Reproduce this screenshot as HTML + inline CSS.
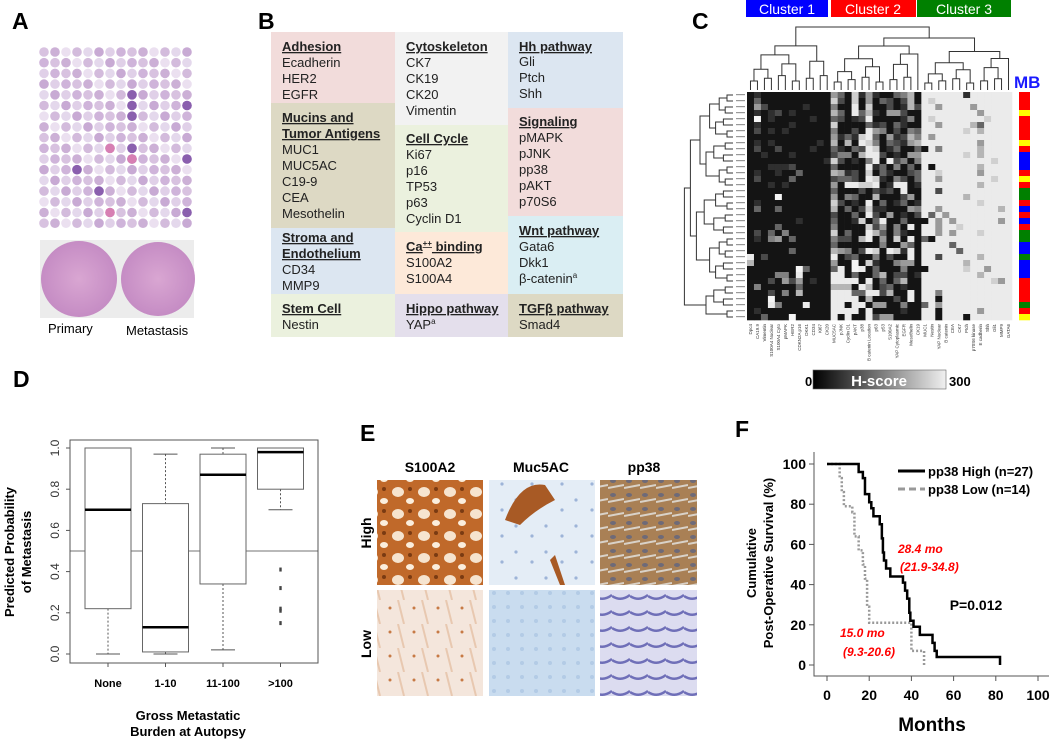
<!DOCTYPE html>
<html><head><meta charset="utf-8"><style>
body{margin:0;background:#fff;width:1050px;height:739px;overflow:hidden;font-family:"Liberation Sans",sans-serif}
svg{display:block}
</style></head><body>
<svg id="s" width="1050" height="739" viewBox="0 0 1050 739" xmlns="http://www.w3.org/2000/svg" font-family="Liberation Sans, sans-serif">
<text x="12" y="29" font-size="23" font-weight="bold">A</text>
<text x="258" y="29" font-size="23" font-weight="bold">B</text>
<text x="692" y="29" font-size="23" font-weight="bold">C</text>
<text x="13" y="387" font-size="23" font-weight="bold">D</text>
<text x="360" y="441" font-size="23" font-weight="bold">E</text>
<text x="735" y="437" font-size="23" font-weight="bold">F</text>

<g id="tma"></g>
<g>
<rect x="40" y="240" width="154" height="78" fill="#ececec"/>
<defs>
<radialGradient id="he1"><stop offset="0" stop-color="#d9a6d2"/><stop offset="1" stop-color="#c58cc4"/></radialGradient>
</defs>
<circle cx="79" cy="279" r="38" fill="url(#he1)"/>
<circle cx="158" cy="279" r="37" fill="url(#he1)"/>
</g>
<text x="48" y="333" font-size="13">Primary</text>
<text x="126" y="335" font-size="13">Metastasis</text>

<g font-size="13">
<rect x="271" y="32" width="124" height="71" fill="#f2dcdb"/>
<rect x="271" y="103" width="124" height="125" fill="#ddd9c4"/>
<rect x="271" y="228" width="124" height="66" fill="#dce6f1"/>
<rect x="271" y="294" width="124" height="43" fill="#ebf1de"/>
<rect x="395" y="32" width="113" height="93" fill="#f2f2f2"/>
<rect x="395" y="125" width="113" height="107" fill="#ebf1de"/>
<rect x="395" y="232" width="113" height="62" fill="#fde9d9"/>
<rect x="395" y="294" width="113" height="43" fill="#e4dfec"/>
<rect x="508" y="32" width="115" height="76" fill="#dce6f1"/>
<rect x="508" y="108" width="115" height="108" fill="#f2dcdb"/>
<rect x="508" y="216" width="115" height="78" fill="#daeef3"/>
<rect x="508" y="294" width="115" height="43" fill="#ddd9c4"/>
<g fill="#222">
<text x="282" y="51" font-weight="bold" text-decoration="underline">Adhesion</text>
<text x="282" y="67">Ecadherin</text><text x="282" y="83">HER2</text><text x="282" y="99">EGFR</text>
<text x="282" y="122" font-weight="bold" text-decoration="underline">Mucins and</text>
<text x="282" y="138" font-weight="bold" text-decoration="underline">Tumor Antigens</text>
<text x="282" y="154">MUC1</text><text x="282" y="170">MUC5AC</text><text x="282" y="186">C19-9</text><text x="282" y="202">CEA</text><text x="282" y="218">Mesothelin</text>
<text x="282" y="242" font-weight="bold" text-decoration="underline">Stroma and</text>
<text x="282" y="258" font-weight="bold" text-decoration="underline">Endothelium</text>
<text x="282" y="274">CD34</text><text x="282" y="290">MMP9</text>
<text x="282" y="313" font-weight="bold" text-decoration="underline">Stem Cell</text>
<text x="282" y="329">Nestin</text>
<text x="406" y="51" font-weight="bold" text-decoration="underline">Cytoskeleton</text>
<text x="406" y="67">CK7</text><text x="406" y="83">CK19</text><text x="406" y="99">CK20</text><text x="406" y="115">Vimentin</text>
<text x="406" y="143" font-weight="bold" text-decoration="underline">Cell Cycle</text>
<text x="406" y="159">Ki67</text><text x="406" y="175">p16</text><text x="406" y="191">TP53</text><text x="406" y="207">p63</text><text x="406" y="223">Cyclin D1</text>
<text x="406" y="251" font-weight="bold" text-decoration="underline">Ca<tspan font-size="8" dy="-5">++</tspan><tspan dy="5"> binding</tspan></text>
<text x="406" y="267">S100A2</text><text x="406" y="283">S100A4</text>
<text x="406" y="313" font-weight="bold" text-decoration="underline">Hippo pathway</text>
<text x="406" y="329">YAP<tspan font-size="8" dy="-5">a</tspan></text>
<text x="519" y="51" font-weight="bold" text-decoration="underline">Hh pathway</text>
<text x="519" y="66">Gli</text><text x="519" y="82">Ptch</text><text x="519" y="98">Shh</text>
<text x="519" y="126" font-weight="bold" text-decoration="underline">Signaling</text>
<text x="519" y="142">pMAPK</text><text x="519" y="158">pJNK</text><text x="519" y="174">pp38</text><text x="519" y="190">pAKT</text><text x="519" y="206">p70S6</text>
<text x="519" y="235" font-weight="bold" text-decoration="underline">Wnt pathway</text>
<text x="519" y="251">Gata6</text><text x="519" y="267">Dkk1</text><text x="519" y="283">β-catenin<tspan font-size="8" dy="-5">a</tspan></text>
<text x="519" y="313" font-weight="bold" text-decoration="underline">TGFβ pathway</text>
<text x="519" y="329">Smad4</text>
</g></g>

<g font-size="14" fill="#fff" text-anchor="middle">
<rect x="746" y="0" width="82" height="17" fill="#0000ff"/><text x="787" y="14">Cluster 1</text>
<rect x="831" y="0" width="85" height="17" fill="#ff0000"/><text x="873" y="14">Cluster 2</text>
<rect x="917" y="0" width="94" height="17" fill="#008000"/><text x="964" y="14">Cluster 3</text>
</g>
<text x="1014" y="88" font-size="17" font-weight="bold" fill="#1a1aff">MB</text>
<g id="heat"></g>
<g id="dendro" stroke="#333" stroke-width="1" fill="none"></g>
<g id="collab" font-size="4.5" fill="#333"></g>
<defs><linearGradient id="hs" x1="0" x2="1"><stop offset="0" stop-color="#000"/><stop offset="1" stop-color="#f0f0f0"/></linearGradient></defs>
<g>
<text x="805" y="386" font-size="13" font-weight="bold">0</text>
<rect x="813" y="370" width="133" height="19" fill="url(#hs)" stroke="#666" stroke-width="0.6"/>
<text x="879" y="386" font-size="15" font-weight="bold" fill="#fff" text-anchor="middle">H-score</text>
<text x="949" y="386" font-size="13" font-weight="bold">300</text>
</g>

<g id="boxplot"></g>

<g>
<defs>
<pattern id="p1" width="26" height="22" patternUnits="userSpaceOnUse"><rect width="26" height="22" fill="#c0692a"/><ellipse cx="8" cy="8" rx="6" ry="5" fill="#f6e4cf"/><ellipse cx="20" cy="17" rx="4" ry="3" fill="#fbeedd"/><circle cx="20" cy="5" r="2" fill="#7a3a12"/></pattern>
<pattern id="p2" width="30" height="26" patternUnits="userSpaceOnUse"><rect width="30" height="26" fill="#e4edf6"/><circle cx="6" cy="6" r="1.6" fill="#9db4d8"/><circle cx="22" cy="16" r="1.6" fill="#9db4d8"/></pattern>
<pattern id="p3" width="16" height="14" patternUnits="userSpaceOnUse"><rect width="16" height="14" fill="#a98055"/><ellipse cx="5" cy="5" rx="3" ry="2" fill="#6e6a78"/><path d="M0 12 L16 9" stroke="#d9d2c8" stroke-width="2"/></pattern>
<pattern id="p4" width="24" height="24" patternUnits="userSpaceOnUse"><rect width="24" height="24" fill="#f4e6dc"/><circle cx="6" cy="8" r="1.5" fill="#c77a45"/><path d="M14 0 L20 24" stroke="#e8c8b0" stroke-width="2"/></pattern>
<pattern id="p5" width="14" height="14" patternUnits="userSpaceOnUse"><rect width="14" height="14" fill="#c9dcef"/><circle cx="4" cy="5" r="2" fill="#b3cbe6"/></pattern>
<pattern id="p6" width="18" height="16" patternUnits="userSpaceOnUse"><rect width="18" height="16" fill="#dcdcf0"/><path d="M0 4 Q9 10 18 3" stroke="#6f6fb8" stroke-width="2.5" fill="none"/></pattern>
</defs>
<rect x="377" y="480" width="106" height="105" fill="url(#p1)"/>
<rect x="489" y="480" width="106" height="105" fill="url(#p2)"/>
<path d="M505 520 Q520 480 545 485 L555 500 Q535 510 520 525 Z" fill="#a85a25"/>
<path d="M555 555 L565 585 L560 585 L550 560 Z" fill="#a85a25"/>
<rect x="600" y="480" width="97" height="105" fill="url(#p3)"/>
<rect x="377" y="590" width="106" height="106" fill="url(#p4)"/>
<rect x="489" y="590" width="106" height="106" fill="url(#p5)"/>
<rect x="600" y="590" width="97" height="106" fill="url(#p6)"/>
</g>
<g font-size="14" font-weight="bold" text-anchor="middle">
<text x="430" y="472">S100A2</text>
<text x="541" y="472">Muc5AC</text>
<text x="644" y="472">pp38</text>
<text transform="translate(371,533) rotate(-90)">High</text>
<text transform="translate(371,644) rotate(-90)">Low</text>
</g>

<g id="km"></g>
</svg>
<script>
const NS='http://www.w3.org/2000/svg';
function mk(p,tag,at,txt){const e=document.createElementNS(NS,tag);for(const k in at)e.setAttribute(k,at[k]);if(txt!==undefined)e.textContent=txt;p.appendChild(e);return e;}

const tmaShades=["d8c2e0","d3bbdc","e0d0e8","ccb0d6","e4d8ec","cfb4da","ebe0f0","c8aad4"];
(function(){const g=document.getElementById('tma');
 for(let r=0;r<17;r++)for(let c=0;c<14;c++){
  const col='#'+tmaShades[(r*5+c*3)%tmaShades.length];
  mk(g,'circle',{cx:44+c*11,cy:52+r*10.7,r:4.8,fill:col});
 }
 [[8,5],[8,6],[8,9],[8,10],[8,4],[13,5],[13,10],[13,15],[3,11],[5,13]].forEach(([c,r])=>mk(g,'circle',{cx:44+c*11,cy:52+r*10.7,r:4.8,fill:'#8a5fae'}));
 [[6,9],[8,10],[6,15]].forEach(([c,r])=>mk(g,'circle',{cx:44+c*11,cy:52+r*10.7,r:4.8,fill:'#d77fb3'}));
})();

const heatCols=["Dpc4","CA19.9","Vimentin","S100A4 Nuclear","S100A4 Cyto","pMAPK","HER2","CDKN2A p16","DKK1","CD34","Ki67","CK20","MUC5AC","pJNK","Cyclin D1","pAKT","p38","B catenin Location","p63","p53","S100A2","YAP Cytoplasmic","EGFR","Mesothelin","CK19","MUC1","Nestin","YAP Nuclear","B catenin","CEA","CK7","Ptch","p70S6 kinase","E cadherin","Shh","Gli1","MMP9","GATA6"];
const heatRows=[
"010000000000|5307151003460|8888881888888",
"030000000000|7207050320260|8788888888888",
"052000001000|4008070020162|8858888588888",
"010120100000|6308361055200|8888888858888",
"090100000100|3201280000140|8788888887888",
"010000100000|7000031203100|8858888638888",
"020101000000|4002085402043|8888887868888",
"000000000000|5131783051264|8588888888888",
"010100000010|6060874032156|8888888858888",
"020020000100|3103287013003|0848888868888",
"001000100000|2440688201055|8888887868888",
"000000000001|7201048082404|8888888888788",
"000111200000|3000081304030|8088888868888",
"010010030000|6512070310023|8878888858888",
"020000300000|2332087104203|8858888888788",
"000101000000|5088778018801|8888888868888",
"000000000000|3000202120800|8828888888888",
"000090000000|5043006000250|8888886888888",
"010000000000|7201080301301|8888888878888",
"030030000000|6030271100054|8858888888868",
"000000000000|2003082050102|8385888888888",
"000000010000|3001703800300|0858588888858",
"000030000000|4000072504080|8858878888888",
"020304000000|7030086304100|8858588878888",
"010450300000|4220680507080|3088888888888",
"000000000000|3000000400530|8888388888888",
"000000300000|6540287087180|8888838888888",
"802000000000|8023004020080|8828888868888",
"600000000000|5009071004550|8888886888888",
"000000093000|3809803000400|0888887885888",
"000044080000|8803003602201|8888888868888",
"000205250100|8888080303600|8888888888758",
"040000030000|6660860230100|8888888888888",
"000204060000|8883388260080|8848888888888",
"000900000000|8888060002080|8808888888888",
"000840008000|8808805500400|3858888888888",
"010000000000|8888080000100|8808888858888",
"003000900000|8080082550000|8808880888888"].map(s=>s.replace(/\|/g,''));
const mbGroups="RRRYRRRRYRBBBRYRGGRBRBRGGBBGBBBRRRRGRY";
const mbColor={R:'#ff0000',Y:'#ffff00',B:'#0000ff',G:'#008000'};
(function(){
 const g=document.getElementById('heat');
 const x0=747,y0=92,W=265,H=228,nc=heatCols.length,nr=heatRows.length;
 const cw=W/nc,rh=H/nr;
 mk(g,'rect',{x:x0,y:y0,width:W,height:H,fill:'#ddd'});
 heatRows.forEach((row,i)=>{
  for(let j=0;j<nc;j++){
   const v=+row[j];const c=Math.min(Math.round(20+v*(215/8)),245);
   mk(g,'rect',{x:(x0+j*cw).toFixed(2),y:(y0+i*rh).toFixed(2),width:(cw+0.3).toFixed(2),height:(rh+0.3).toFixed(2),fill:`rgb(${c},${c},${c})`});
  }
  mk(g,'rect',{x:1019,y:(y0+i*rh).toFixed(2),width:11,height:(rh+0.3).toFixed(2),fill:mbColor[mbGroups[i]]});
 });
 const cl=document.getElementById('collab');
 heatCols.forEach((n,j)=>{
  mk(cl,'text',{transform:`translate(${(x0+j*cw+cw/2+1.5).toFixed(1)},324) rotate(-90)`,'text-anchor':'end'},n);
 });
 const d=document.getElementById('dendro');
 function tree(leaves,base,depthStep,axis){
  let nodes=leaves.map(p=>({p,h:0}));
  while(nodes.length>1){const nx=[];
   for(let i=0;i<nodes.length;i+=2){
    if(i+1>=nodes.length){nx.push(nodes[i]);continue;}
    const a=nodes[i],b=nodes[i+1];const h=Math.max(a.h,b.h)+depthStep*(1+((i/2)%3)*0.3);
    if(axis==='x') mk(d,'path',{d:`M${a.p} ${base-a.h} V${base-h} H${b.p} V${base-b.h}`});
    else mk(d,'path',{d:`M${base-a.h} ${a.p} H${base-h} V${b.p} H${base-b.h}`});
    nx.push({p:(a.p+b.p)/2,h});}
   nodes=nx;}
  return nodes[0];
 }
 const cl1=[],cl2=[],cl3=[];
 for(let j=0;j<12;j++)cl1.push(x0+j*cw+cw/2);
 for(let j=12;j<25;j++)cl2.push(x0+j*cw+cw/2);
 for(let j=25;j<38;j++)cl3.push(x0+j*cw+cw/2);
 const a=tree(cl1,90,9,'x'),b=tree(cl2,90,8,'x'),c=tree(cl3,90,7,'x');
 mk(d,'path',{d:`M${b.p} ${90-b.h} V${90-b.h-8} H${c.p} V${90-c.h}`});
 const bc=(b.p+c.p)/2;
 mk(d,'path',{d:`M${a.p} ${90-a.h} V27 H${bc} V${90-b.h-8}`});
 const rl=[];for(let i=0;i<nr;i++)rl.push(y0+i*rh+rh/2);
 tree(rl,733,6,'y');
 for(let i=0;i<nr;i++)mk(cl,'rect',{x:736,y:(y0+i*rh+2).toFixed(1),width:9,height:1.2,fill:'#999'});
})();

const dCats=["None","1-10","11-100",">100"];
const dMin=[0.0,0.0,0.02,0.70];
const dQ1=[0.22,0.01,0.34,0.80];
const dMed=[0.70,0.13,0.87,0.98];
const dQ3=[1.0,0.73,0.97,1.0];
const dMax=[1.0,0.97,1.0,1.0];
const dOutliers=[[],[],[],[0.41,0.32,0.22,0.21,0.15]];
const dTicks=[0,0.2,0.4,0.6,0.8,1.0];
(function(){
 const g=document.getElementById('boxplot');
 const y=v=>654-v*206, x=i=>108+i*57.5;
 mk(g,'rect',{x:70,y:440,width:248,height:223,fill:'none',stroke:'#555','stroke-width':1});
 dTicks.forEach(t=>{mk(g,'line',{x1:66,x2:70,y1:y(t),y2:y(t),stroke:'#555'});
  mk(g,'text',{transform:`translate(59,${y(t)}) rotate(-90)`,'text-anchor':'middle','font-size':12,fill:'#333'},t.toFixed(1));});
 mk(g,'line',{x1:70,x2:318,y1:y(0.5),y2:y(0.5),stroke:'#444','stroke-width':0.8});
 dCats.forEach((c,i)=>{
  const cx=x(i),hw=23;
  mk(g,'line',{x1:cx,x2:cx,y1:y(dMax[i]),y2:y(dQ3[i]),stroke:'#555','stroke-dasharray':'2,2'});
  mk(g,'line',{x1:cx,x2:cx,y1:y(dQ1[i]),y2:y(dMin[i]),stroke:'#555','stroke-dasharray':'2,2'});
  mk(g,'line',{x1:cx-12,x2:cx+12,y1:y(dMax[i]),y2:y(dMax[i]),stroke:'#555'});
  mk(g,'line',{x1:cx-12,x2:cx+12,y1:y(dMin[i]),y2:y(dMin[i]),stroke:'#555'});
  const b=mk(g,'rect',{x:cx-hw,y:y(dQ3[i]),width:hw*2,height:y(dQ1[i])-y(dQ3[i]),fill:'#fff',stroke:'#666'});
  
  
  mk(g,'line',{x1:cx-hw,x2:cx+hw,y1:y(dMed[i]),y2:y(dMed[i]),stroke:'#000','stroke-width':2.5});
  dOutliers[i].forEach(o=>mk(g,'rect',{x:cx-1.2,y:y(o)-2,width:2.4,height:4,fill:'#444'}));
  mk(g,'line',{x1:cx,x2:cx,y1:663,y2:667,stroke:'#555'});
  mk(g,'text',{x:cx,y:687,'text-anchor':'middle','font-size':11,'font-weight':'bold'},c);
 });
 mk(g,'text',{transform:'translate(14,552) rotate(-90)','text-anchor':'middle','font-size':13,'font-weight':'bold'},'Predicted Probability');
 mk(g,'text',{transform:'translate(31,552) rotate(-90)','text-anchor':'middle','font-size':13,'font-weight':'bold'},'of Metastasis');
 mk(g,'text',{x:188,y:720,'text-anchor':'middle','font-size':13,'font-weight':'bold'},'Gross Metastatic');
 mk(g,'text',{x:188,y:736,'text-anchor':'middle','font-size':13,'font-weight':'bold'},'Burden at Autopsy');
})();

const highMonths=[0,15,17,18,20,21,22,25,26,26.5,27,28,30,36,37,38,39,39.5,41,44,50,51,52,82];
const highSurv=[100,96,93,85,81,78,74,70,63,56,52,48,44,41,37,33,26,22,19,15,11,7,4,0];
const lowMonths=[0,6,7,8,12,13,15,17,18,19,20,40,46];
const lowSurv=[100,93,86,79,76,64,57,50,43,29,21,7,0];
const kmTicksX=[0,20,40,60,80,100];
const kmTicksY=[0,20,40,60,80,100];
(function(){
 const g=document.getElementById('km');
 const x=m=>827+m*2.11, y=s=>665-s*2.01;
 mk(g,'path',{d:'M814 452 V676 H1049',fill:'none',stroke:'#555','stroke-width':1});
 kmTicksY.forEach(t=>{mk(g,'line',{x1:809,x2:814,y1:y(t),y2:y(t),stroke:'#555'});
  mk(g,'text',{x:806,y:y(t)+5,'text-anchor':'end','font-size':14,'font-weight':'bold'},String(t));});
 kmTicksX.forEach(t=>{mk(g,'line',{x1:x(t),x2:x(t),y1:676,y2:681,stroke:'#555'});
  mk(g,'text',{x:x(t),y:700,'text-anchor':'middle','font-size':14,'font-weight':'bold'},String(t));});
 function step(ms,ss){let d=`M${x(ms[0])} ${y(ss[0])}`;for(let i=1;i<ms.length;i++)d+=` H${x(ms[i])} V${y(ss[i])}`;return d;}
 const lo=mk(g,'path',{d:step(lowMonths,lowSurv),fill:'none',stroke:'#999','stroke-width':2.5,'stroke-dasharray':'2,2'});
 
 
 const hi=mk(g,'path',{d:step(highMonths,highSurv),fill:'none',stroke:'#000','stroke-width':2.5});
 
 
 mk(g,'line',{x1:898,x2:925,y1:471,y2:471,stroke:'#000','stroke-width':3});
 mk(g,'text',{x:928,y:476,'font-size':13,'font-weight':'bold'},'pp38 High (n=27)');
 mk(g,'line',{x1:898,x2:925,y1:489,y2:489,stroke:'#999','stroke-width':3,'stroke-dasharray':'7,4'});
 mk(g,'text',{x:928,y:494,'font-size':13,'font-weight':'bold'},'pp38 Low (n=14)');
 mk(g,'text',{x:898,y:553,'font-size':12,'font-weight':'bold','font-style':'italic',fill:'#ff0000'},'28.4 mo');
 mk(g,'text',{x:900,y:571,'font-size':12,'font-weight':'bold','font-style':'italic',fill:'#ff0000'},'(21.9-34.8)');
 mk(g,'text',{x:840,y:637,'font-size':12,'font-weight':'bold','font-style':'italic',fill:'#ff0000'},'15.0 mo');
 mk(g,'text',{x:843,y:656,'font-size':12,'font-weight':'bold','font-style':'italic',fill:'#ff0000'},'(9.3-20.6)');
 mk(g,'text',{x:976,y:610,'text-anchor':'middle','font-size':14,'font-weight':'bold'},'P=0.012');
 mk(g,'text',{transform:'translate(756,563) rotate(-90)','text-anchor':'middle','font-size':13,'font-weight':'bold'},'Cumulative');
 mk(g,'text',{transform:'translate(773,563) rotate(-90)','text-anchor':'middle','font-size':13,'font-weight':'bold'},'Post-Operative Survival (%)');
 mk(g,'text',{x:932,y:731,'text-anchor':'middle','font-size':19,'font-weight':'bold'},'Months');
})();
</script>
</body></html>
